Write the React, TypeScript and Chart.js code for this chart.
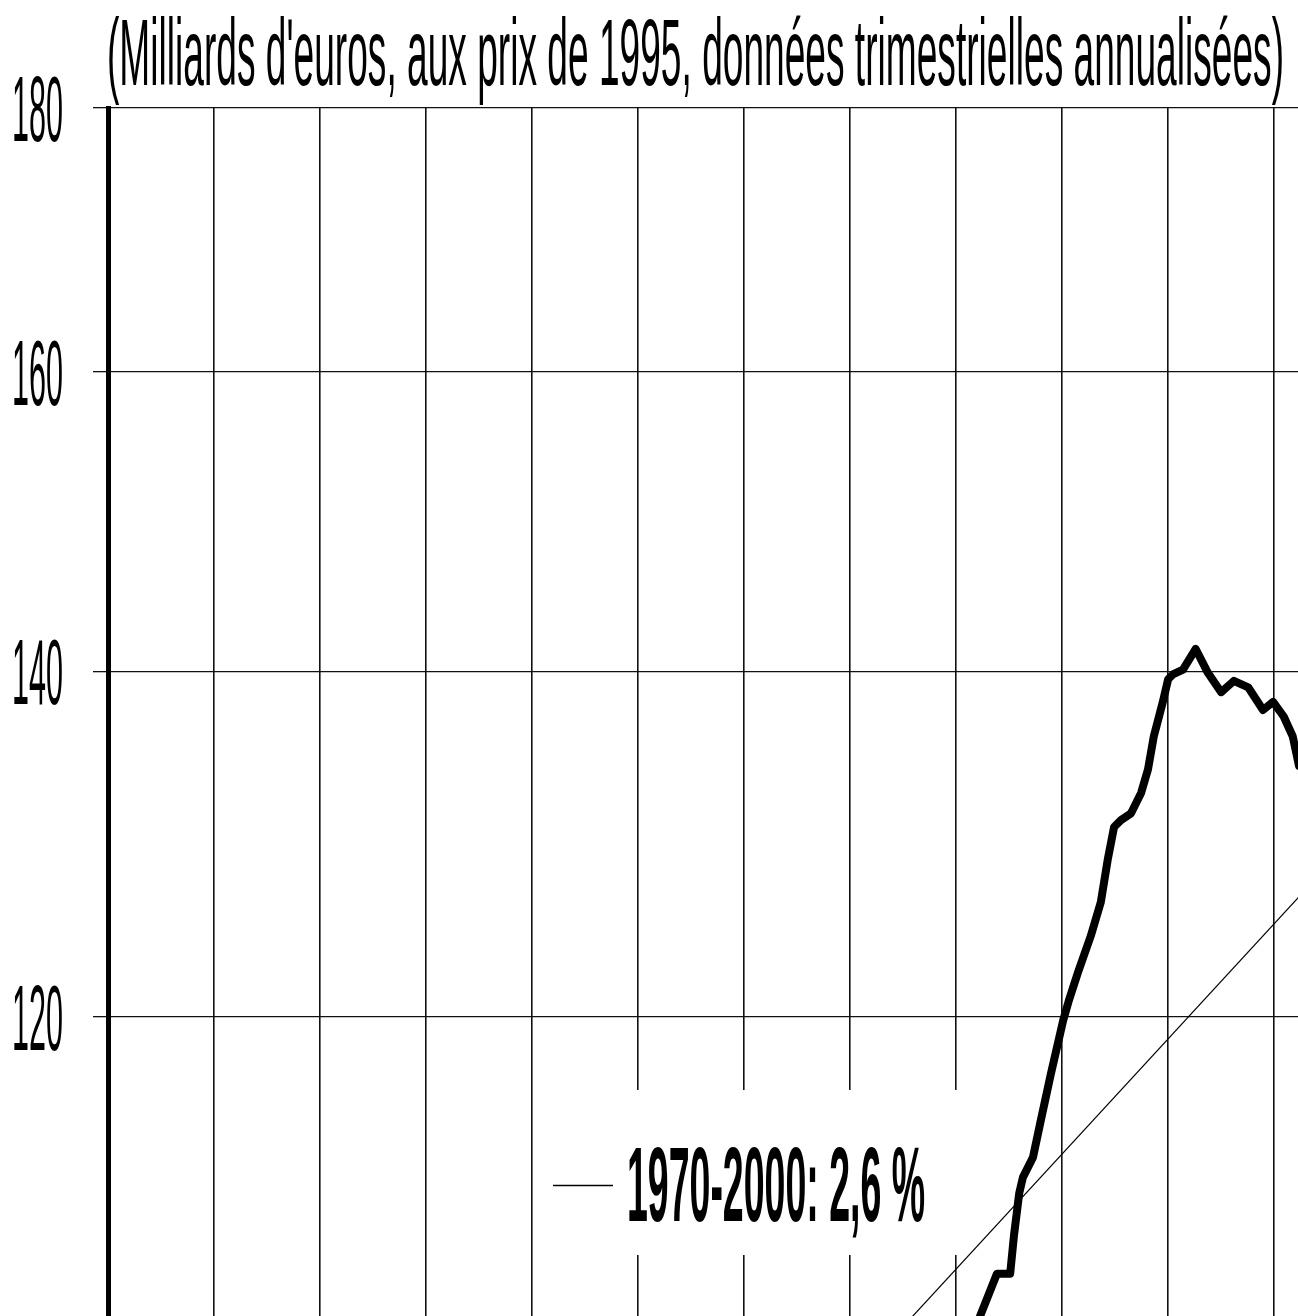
import React, { useEffect, useRef } from "react";
import { Chart, registerables } from "chart.js";

Chart.register(...registerables);

// ---- Data ----
const TITLE = "(Milliards d'euros, aux prix de 1995, données trimestrielles annualisées)";
const LEGEND_LABEL = "1970-2000: 2,6 %";

const Y_TICKS = [120, 140, 160, 180];
const Y_TICK_LABELS = ["120", "140", "160", "180"];
const X_GRID_YEARS = [1970, 1972, 1974, 1976, 1978, 1980, 1982, 1984, 1986, 1988, 1990, 1992];

const SERIES_YEARS = [
  1986.0, 1986.19, 1986.47, 1986.77, 1987.02, 1987.09, 1987.19, 1987.26, 1987.45, 1987.6,
  1987.79, 1988.02, 1988.13, 1988.3, 1988.54, 1988.73, 1988.86, 1988.98, 1989.11, 1989.3,
  1989.49, 1989.62, 1989.73, 1989.9, 1990.0, 1990.09, 1990.28, 1990.52, 1990.75, 1991.0,
  1991.24, 1991.51, 1991.79, 1991.98, 1992.18, 1992.35, 1992.47, 1992.6,
];
const SERIES_VALUES = [
  102.0, 103.4, 105.1, 107.0, 107.0, 108.8, 110.9, 111.7, 112.7, 114.6,
  117.0, 119.8, 120.9, 122.4, 124.4, 126.3, 128.7, 130.6, 131.0, 131.4,
  132.6, 134.0, 136.0, 138.1, 139.5, 139.8, 140.1, 141.4, 139.9, 138.7,
  139.4, 139.0, 137.6, 138.1, 137.2, 136.0, 134.2, 132.2,
];

const TREND_YEARS = [1970, 2000];
const TREND_VALUES = [71.1, 153.6];

const W = 1298;
const H = 1316;

function drawCondensed(
  ctx: CanvasRenderingContext2D,
  text: string,
  font: string,
  x: number,
  baseline: number,
  targetWidth: number,
  align: "left" | "right"
) {
  ctx.save();
  ctx.font = font;
  ctx.fillStyle = "#000";
  ctx.textBaseline = "alphabetic";
  ctx.textAlign = "left";
  const w = ctx.measureText(text).width;
  const sx = targetWidth / w;
  const left = align === "left" ? x : x - targetWidth;
  ctx.translate(left, baseline);
  ctx.scale(sx, 1);
  ctx.fillText(text, 0, 0);
  ctx.restore();
}

const decorPlugin = {
  id: "decor",
  beforeDatasetsDraw(chart: any) {
    const ctx = chart.ctx as CanvasRenderingContext2D;
    ctx.save();
    ctx.fillStyle = "#fff";
    ctx.fillRect(540, 1090, 425, 165);
    ctx.restore();
  },
  afterDraw(chart: any) {
    const ctx = chart.ctx as CanvasRenderingContext2D;
    const yScale = chart.scales.y;
    // title
    drawCondensed(ctx, TITLE, "94px 'Liberation Sans', Arial, sans-serif", 107, 85, 1177, "left");
    // y tick labels
    Y_TICKS.forEach((v, i) => {
      const py = yScale.getPixelForValue(v);
      drawCondensed(ctx, Y_TICK_LABELS[i], "92px 'Liberation Sans', Arial, sans-serif", 63, py + 33, 51, "right");
    });
    // legend
    ctx.save();
    ctx.strokeStyle = "#000";
    ctx.lineWidth = 1.4;
    ctx.beginPath();
    ctx.moveTo(553, 1185.5);
    ctx.lineTo(613, 1185.5);
    ctx.stroke();
    ctx.restore();
    drawCondensed(ctx, LEGEND_LABEL, "bold 105px 'Liberation Sans', Arial, sans-serif", 627, 1221, 298, "left");
  },
};

export default function App() {
  const ref = useRef<HTMLCanvasElement | null>(null);

  useEffect(() => {
    if (!ref.current) return;
    const chart = new Chart(ref.current, {
      type: "line",
      data: {
        datasets: [
          {
            label: "Série",
            data: SERIES_YEARS.map((x, i) => ({ x, y: SERIES_VALUES[i] })),
            borderColor: "#000",
            borderWidth: 8,
            pointRadius: 0,
            tension: 0,
            borderJoinStyle: "round",
            borderCapStyle: "round",
            fill: false,
          },
          {
            label: LEGEND_LABEL,
            data: TREND_YEARS.map((x, i) => ({ x, y: TREND_VALUES[i] })),
            borderColor: "#000",
            borderWidth: 1.2,
            pointRadius: 0,
            tension: 0,
            fill: false,
          },
        ],
      },
      options: {
        responsive: false,
        animation: false,
        devicePixelRatio: 1,
        layout: { padding: { left: 93, top: 108, right: 0, bottom: 0 } },
        plugins: {
          legend: { display: false },
          title: { display: false },
          tooltip: { enabled: false },
        },
        scales: {
          x: {
            type: "linear",
            min: 1970,
            max: 1992.45,
            afterBuildTicks: (s: any) => {
              s.ticks = X_GRID_YEARS.map((v) => ({ value: v }));
            },
            afterFit: (s: any) => {
              s.height = 0;
            },
            ticks: { display: false },
            grid: { color: "#111", lineWidth: 1.6, drawTicks: false },
            border: { display: false },
          },
          y: {
            type: "logarithmic",
            min: 105,
            max: 180,
            afterBuildTicks: (s: any) => {
              s.ticks = Y_TICKS.map((v) => ({ value: v }));
            },
            afterFit: (s: any) => {
              s.width = 15;
            },
            ticks: { display: false },
            grid: { color: "#111", lineWidth: 1.3, drawTicks: true, tickLength: 15 },
            border: { display: true, color: "#000", width: 5 },
          },
        },
      },
      plugins: [decorPlugin],
    } as any);
    return () => chart.destroy();
  }, []);

  return (
    <div style={{ position: "absolute", left: 0, top: 0, width: W, height: H, background: "#fff" }}>
      <canvas ref={ref} width={W} height={H} style={{ display: "block", width: W, height: H }} />
    </div>
  );
}
